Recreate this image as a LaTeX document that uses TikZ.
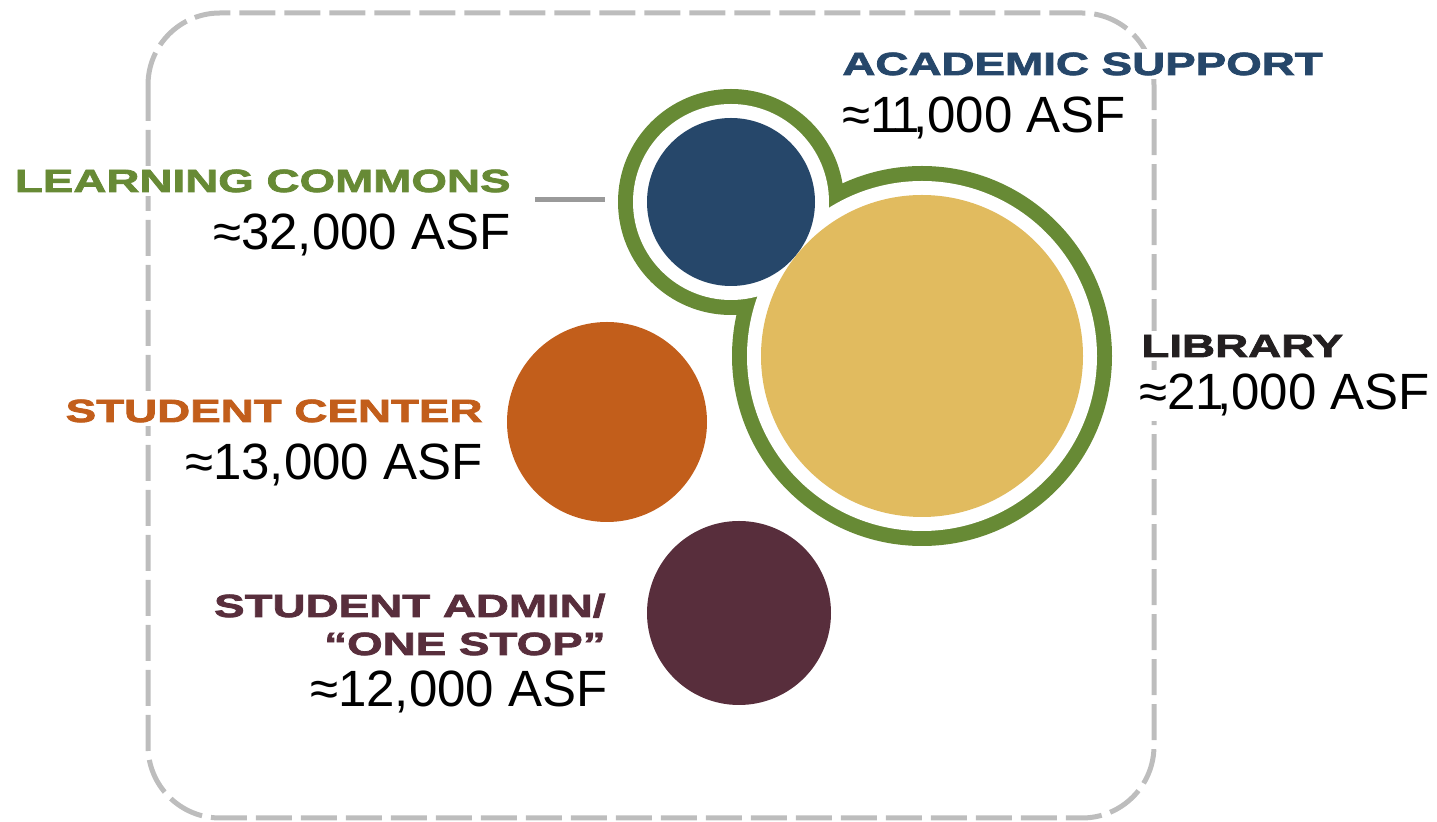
\documentclass[tikz,border=0pt]{standalone}
\usepackage{fontspec}
\setmainfont{Liberation Sans}
\newfontfamily\widefont{Liberation Sans}[FakeStretch=1.43,BoldFeatures={FakeBold=2.5}]
\definecolor{lcgreen}{HTML}{678A35}
\definecolor{asblue}{HTML}{26476A}
\definecolor{libyellow}{HTML}{E1BB5F}
\definecolor{scorange}{HTML}{C25E1B}
\definecolor{samaroon}{HTML}{582E3C}
\definecolor{libblack}{HTML}{231F20}
\definecolor{boxgray}{HTML}{BDBDBD}
\definecolor{linegray}{HTML}{9A9A9A}
\newcommand{\one}{1\kern-3.5pt}
\begin{document}
\begin{tikzpicture}[x=0.5pt,y=-0.5pt]
  \tikzstyle{every node}=[inner sep=0pt]
  \tikzstyle{blob}=[circle,draw=none]
  \tikzstyle{head}=[font=\widefont\bfseries\fontsize{16}{18}\selectfont,fill=white,inner sep=2pt]
  \tikzstyle{area}=[font=\fontsize{25.5}{28}\selectfont,text=black,fill=white,inner sep=2pt]
  \useasboundingbox (0,0) rectangle (1437,822);
  % dashed frame
  \draw[boxgray,line width=2.5pt,dash pattern=on 18pt off 4.5pt,rounded corners=36pt]
    (148,13) rectangle (1154,818);
  % learning commons outline
  \coordinate (acad) at (731,202);
  \coordinate (lib) at (922,356);
  \fill[lcgreen] (acad) circle[radius=56.5pt] (lib) circle[radius=95pt];
  \fill[white] (acad) circle[radius=49pt] (lib) circle[radius=87.5pt];
  % space circles
  \node[blob,fill=asblue,minimum size=84pt] (acadc) at (acad) {};
  \node[blob,fill=libyellow,minimum size=161pt] (libc) at (lib) {};
  \node[blob,fill=scorange,minimum size=100pt] (stc) at (607,422) {};
  \node[blob,fill=samaroon,minimum size=92pt] (sac) at (739,613) {};
  % labels
  \node[head,text=asblue,anchor=base west] (acadl) at (838,75) {ACADEMIC SUPPORT};
  \node[area,anchor=base west] (acada) at (838,133) {≈\one\one,000 ASF};
  \node[head,text=lcgreen,anchor=base east] (lcl) at (515,192) {LEARNING COMMONS};
  \node[area,anchor=base east] (lca) at (515,250) {≈32,000 ASF};
  \node[head,text=libblack,anchor=base west] (libl) at (1137,357) {LIBRARY};
  \node[area,anchor=base west] (liba) at (1135,410) {≈2\one,000 ASF};
  \node[head,text=scorange,anchor=base east] (stl) at (487,422) {STUDENT CENTER};
  \node[area,anchor=base east] (sta) at (487,480) {≈13,000 ASF};
  \node[head,text=samaroon,anchor=base east] (sal) at (610,617) {STUDENT ADMIN/};
  \node[head,text=samaroon,anchor=base east] (sal2) at (610,655) {“ONE STOP”};
  \node[area,anchor=base east] (saa) at (612,707) {≈12,000 ASF};
  % pointer
  \coordinate (lcend) at (605,200);
  \draw[linegray,line width=2.5pt] (lcl.east |- lcend) ++(20,0) -- (lcend);
\end{tikzpicture}
\end{document}
